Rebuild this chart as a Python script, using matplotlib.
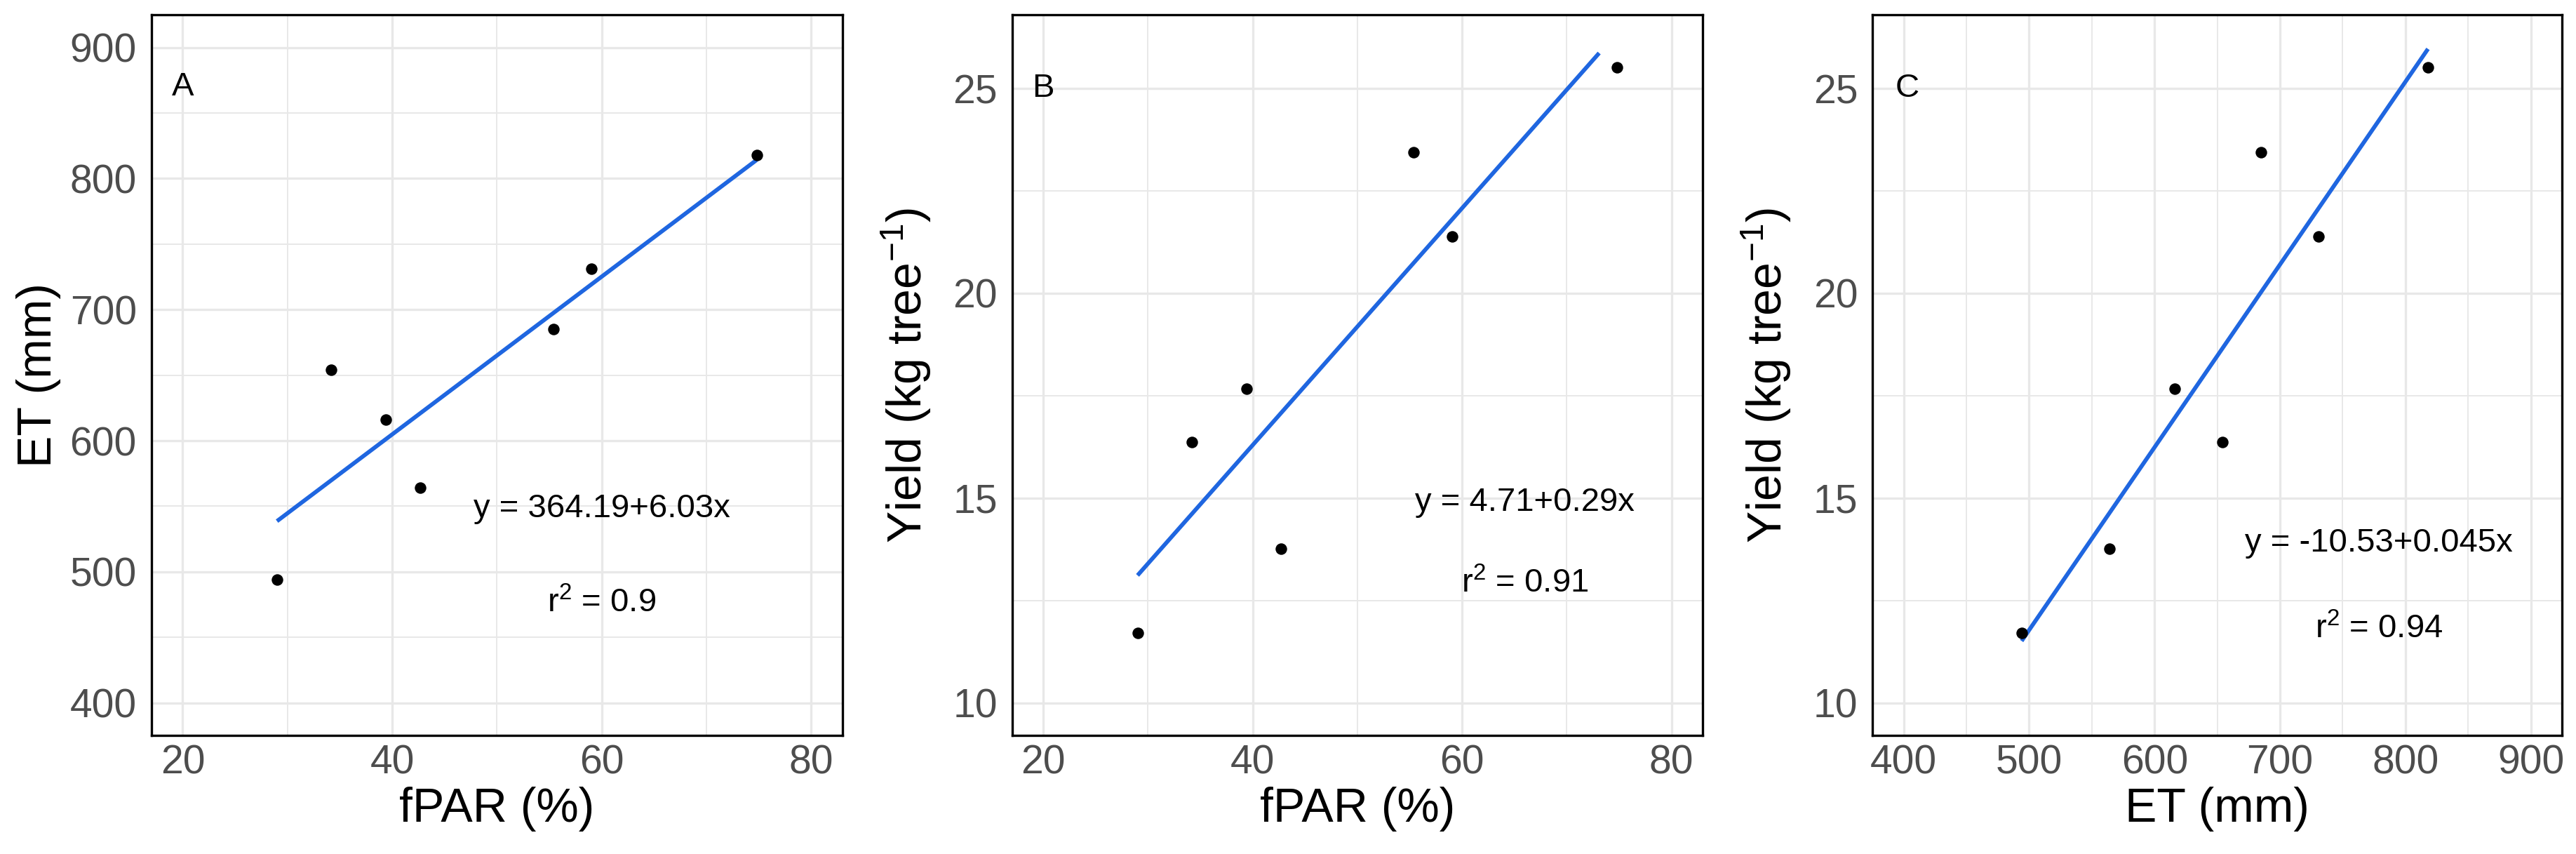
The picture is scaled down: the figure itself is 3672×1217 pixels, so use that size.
import numpy as np
import matplotlib
matplotlib.use('Agg')
import matplotlib.pyplot as plt
from matplotlib.ticker import MultipleLocator

plt.rcParams['font.family'] = ['Liberation Sans', 'DejaVu Sans']
plt.rcParams['mathtext.fontset'] = 'custom'
plt.rcParams['mathtext.rm'] = 'Liberation Sans'
plt.rcParams['mathtext.it'] = 'Liberation Sans'
plt.rcParams['mathtext.default'] = 'regular'

# values (7 orchards / treatments)
fpar = np.array([29.0, 34.2, 39.4, 42.7, 55.4, 59.05, 74.8])
et = np.array([494.0, 654.0, 616.0, 564.0, 685.0, 731.0, 818.0])
yld = np.array([11.70, 16.36, 17.66, 13.76, 23.45, 21.38, 25.52])

# x extent of each fitted line as drawn
fit_range_a = [29.0, 74.8]
fit_range_b = [29.0, 73.1]
fit_range_c = [494.0, 818.0]

eq_a = ['y = 364.19+6.03x', 'r$^2$ = 0.9']
eq_b = ['y = 4.71+0.29x', 'r$^2$ = 0.91']
eq_c = ['y = -10.53+0.045x', 'r$^2$ = 0.94']

W, H = 3672, 1217
fig = plt.figure(figsize=(W / 100, H / 100), dpi=100)

bottom = (H - 1048.3) / H
height = 1027.3 / H
lefts = [215.7, 1442.5, 2669.0]
widths = [985.3, 984.8, 983.3]

blue = '#1F66E0'
grid_c = '#E8E8E8'


def panel(i, x, y, fit_rng, xlim, ylim, xmaj, ymaj, xlabel, ylabel,
          letter, letter_xy, eq, eq_xy, ylab_x):
    ax = fig.add_axes([lefts[i] / W, bottom, widths[i] / W, height])
    ax.set_xlim(*xlim)
    ax.set_ylim(*ylim)
    ax.xaxis.set_major_locator(MultipleLocator(xmaj))
    ax.xaxis.set_minor_locator(MultipleLocator(xmaj / 2))
    ax.yaxis.set_major_locator(MultipleLocator(ymaj))
    ax.yaxis.set_minor_locator(MultipleLocator(ymaj / 2))
    ax.grid(which='major', color=grid_c, lw=2.4, zorder=0)
    ax.grid(which='minor', color=grid_c, lw=1.4, zorder=0)
    ax.set_axisbelow(True)
    ax.tick_params(which='both', length=0, labelsize=41, labelcolor='#4D4D4D')
    ax.tick_params(axis='x', pad=9)
    ax.tick_params(axis='y', pad=15)
    for s in ax.spines.values():
        s.set_linewidth(2.4)
        s.set_color('black')

    k, b = np.polyfit(x, y, 1)
    xx = np.array(fit_rng)
    ax.plot(xx, b + k * xx, color=blue, lw=4.2, zorder=3, solid_capstyle='butt')
    ax.scatter(x, y, s=140, color='black', zorder=4, linewidths=0)

    ax.text(letter_xy[0], letter_xy[1], letter, fontsize=34, ha='center', va='center')
    ax.text(eq_xy[0], eq_xy[1], eq[0], fontsize=34, ha='center', va='center')
    ax.text(eq_xy[0], eq_xy[2], eq[1], fontsize=34, ha='center', va='center')

    ax.set_xlabel(xlabel, fontsize=49)
    ax.set_ylabel(ylabel, fontsize=49)
    ax.xaxis.set_label_coords(0.5, -0.102)
    ax.yaxis.set_label_coords(ylab_x, 0.5)
    ax.yaxis.label.set_va('center')
    ax.xaxis.label.set_va('center')
    return ax


panel(0, fpar, et, fit_range_a, (17, 83), (375, 925), 20, 100,
      'fPAR (%)', 'ET (mm)', 'A', (20, 870), eq_a, (60, 548, 476), -0.163)
panel(1, fpar, yld, fit_range_b, (17, 83), (9.2, 26.8), 20, 5,
      'fPAR (%)', 'Yield (kg tree$^{-1}$)', 'B', (20, 25), eq_b, (66, 14.9, 12.9), -0.153)
panel(2, et, yld, fit_range_c, (375, 925), (9.2, 26.8), 100, 5,
      'ET (mm)', 'Yield (kg tree$^{-1}$)', 'C', (403, 25), eq_c, (779, 13.9, 11.8), -0.154)

fig.savefig('out.png', dpi=100, facecolor='white')
